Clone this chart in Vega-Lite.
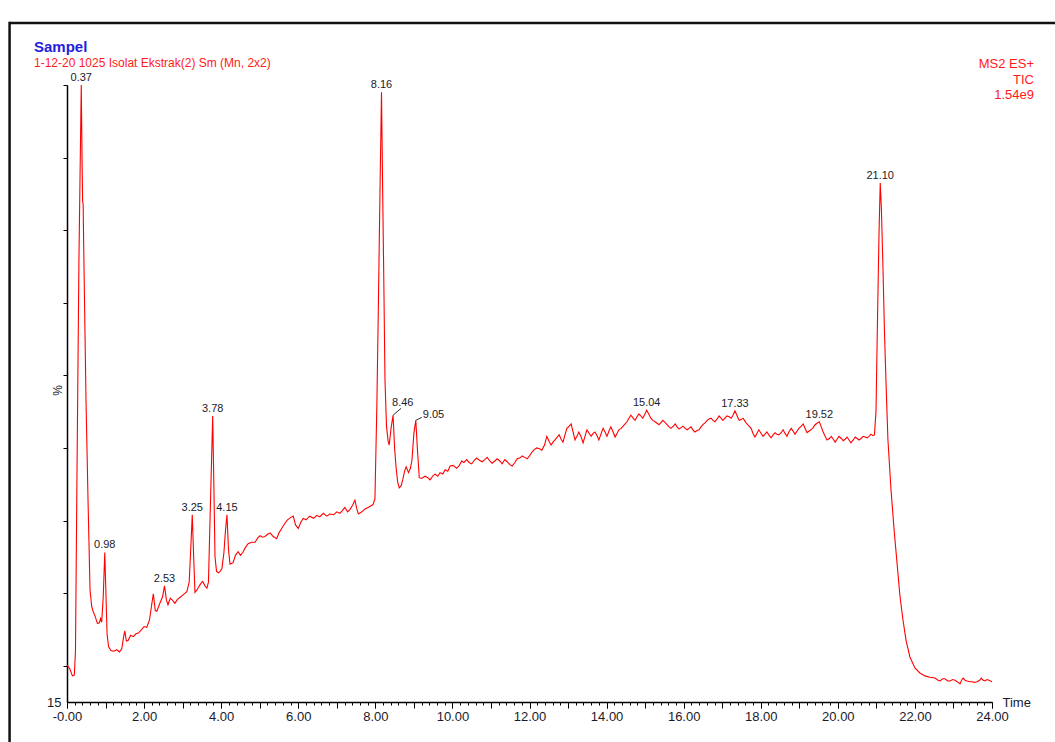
{
"$schema": "https://vega.github.io/schema/vega-lite/v6.json",
"width": 925,
"height": 617,
"autosize": {"type": "none"},
"padding": {"left": 67, "top": 85, "right": 63, "bottom": 40},
"background": "white",
"config": {
  "font": "Liberation Sans",
  "view": {"stroke": null},
  "axis": {"labelOverlap": false, "labelFlush": false, "labelBound": false, "grid": false}
},
"title": {
  "text": "Sampel",
  "subtitle": "1-12-20 1025 Isolat Ekstrak(2) Sm (Mn, 2x2)",
  "anchor": "start",
  "frame": "group",
  "dx": -33,
  "offset": -48,
  "fontSize": 15,
  "fontWeight": "bold",
  "color": "#2222dd",
  "subtitleColor": "#ff1a1a",
  "subtitleFontSize": 12,
  "subtitlePadding": 3
},
"resolve": {"axis": {"x": "independent", "y": "independent"}},
"datasets": {
  "tic": [
    {"t":0,"v":20.1},{"t":0.07,"v":19.6},{"t":0.14,"v":18.6},{"t":0.19,"v":18.7},{"t":0.22,"v":22},{"t":0.26,"v":47},{"t":0.31,"v":76},{"t":0.37,"v":100},{"t":0.39,"v":90},{"t":0.405,"v":84},{"t":0.42,"v":83.5},{"t":0.43,"v":79},{"t":0.454,"v":70.4},{"t":0.493,"v":56.6},{"t":0.545,"v":42.9},{"t":0.597,"v":30.5},{"t":0.64,"v":28.2},{"t":0.675,"v":27.5},{"t":0.73,"v":26.8},{"t":0.79,"v":25.8},{"t":0.84,"v":25.9},{"t":0.87,"v":26.5},{"t":0.9,"v":26.0},{"t":0.94,"v":29.5},{"t":0.98,"v":35.6},{"t":1.01,"v":30},{"t":1.04,"v":24.3},{"t":1.08,"v":22.6},{"t":1.14,"v":22.1},{"t":1.22,"v":22.0},{"t":1.29,"v":22.2},{"t":1.36,"v":21.9},{"t":1.42,"v":22.3},{"t":1.47,"v":24.0},{"t":1.5,"v":24.8},{"t":1.54,"v":23.4},{"t":1.59,"v":23.5},{"t":1.65,"v":24.2},{"t":1.72,"v":24.0},{"t":1.79,"v":24.4},{"t":1.85,"v":24.5},{"t":1.94,"v":25.0},{"t":2.0,"v":25.4},{"t":2.07,"v":25.3},{"t":2.14,"v":26.3},{"t":2.2,"v":28.5},{"t":2.24,"v":29.9},{"t":2.29,"v":27.6},{"t":2.33,"v":27.5},{"t":2.41,"v":28.6},{"t":2.48,"v":29.5},{"t":2.53,"v":31.0},{"t":2.58,"v":29},{"t":2.62,"v":28.4},{"t":2.68,"v":29.3},{"t":2.74,"v":29.0},{"t":2.8,"v":28.6},{"t":2.86,"v":29.1},{"t":2.93,"v":29.4},{"t":3.02,"v":29.8},{"t":3.11,"v":30.2},{"t":3.17,"v":31.5},{"t":3.21,"v":36},{"t":3.25,"v":40.8},{"t":3.28,"v":36},{"t":3.32,"v":30.1},{"t":3.37,"v":30.4},{"t":3.41,"v":30.8},{"t":3.47,"v":31.3},{"t":3.52,"v":31.6},{"t":3.58,"v":31.0},{"t":3.63,"v":30.7},{"t":3.67,"v":31.5},{"t":3.72,"v":42},{"t":3.78,"v":54.4},{"t":3.81,"v":45},{"t":3.84,"v":35},{"t":3.88,"v":33.0},{"t":3.93,"v":32.8},{"t":3.97,"v":33.0},{"t":4.02,"v":33.4},{"t":4.07,"v":35.5},{"t":4.11,"v":38.5},{"t":4.15,"v":40.8},{"t":4.19,"v":36},{"t":4.23,"v":34.0},{"t":4.31,"v":34.2},{"t":4.37,"v":35.2},{"t":4.44,"v":35.7},{"t":4.5,"v":35.2},{"t":4.56,"v":35.6},{"t":4.63,"v":36.3},{"t":4.7,"v":36.8},{"t":4.79,"v":37.0},{"t":4.88,"v":37.0},{"t":4.95,"v":37.6},{"t":5.01,"v":37.9},{"t":5.07,"v":37.7},{"t":5.14,"v":37.8},{"t":5.2,"v":38.1},{"t":5.27,"v":38.3},{"t":5.35,"v":37.8},{"t":5.44,"v":37.5},{"t":5.5,"v":38.3},{"t":5.57,"v":38.9},{"t":5.65,"v":39.6},{"t":5.72,"v":40.1},{"t":5.8,"v":40.4},{"t":5.87,"v":40.6},{"t":5.93,"v":39.4},{"t":6.0,"v":38.9},{"t":6.07,"v":39.8},{"t":6.13,"v":40.3},{"t":6.2,"v":40.1},{"t":6.3,"v":40.6},{"t":6.4,"v":40.3},{"t":6.48,"v":40.7},{"t":6.56,"v":40.5},{"t":6.65,"v":41.0},{"t":6.74,"v":40.6},{"t":6.82,"v":40.9},{"t":6.92,"v":40.8},{"t":7.0,"v":41.2},{"t":7.08,"v":41.0},{"t":7.15,"v":41.4},{"t":7.21,"v":41.8},{"t":7.28,"v":41.2},{"t":7.34,"v":41.5},{"t":7.41,"v":42.1},{"t":7.47,"v":42.8},{"t":7.52,"v":41.6},{"t":7.56,"v":40.9},{"t":7.65,"v":41.2},{"t":7.73,"v":41.6},{"t":7.81,"v":41.8},{"t":7.88,"v":42.0},{"t":7.94,"v":42.2},{"t":7.99,"v":43.0},{"t":8.04,"v":56},{"t":8.08,"v":70},{"t":8.12,"v":85},{"t":8.16,"v":99.0},{"t":8.19,"v":85.4},{"t":8.22,"v":73},{"t":8.25,"v":59.4},{"t":8.29,"v":53},{"t":8.33,"v":51},{"t":8.36,"v":50.4},{"t":8.41,"v":52.8},{"t":8.46,"v":54.5},{"t":8.5,"v":50},{"t":8.54,"v":47.2},{"t":8.58,"v":45.3},{"t":8.62,"v":44.5},{"t":8.67,"v":44.8},{"t":8.71,"v":45.6},{"t":8.76,"v":46.8},{"t":8.8,"v":47.4},{"t":8.86,"v":46.6},{"t":8.91,"v":47.2},{"t":8.95,"v":48.3},{"t":9.0,"v":52},{"t":9.05,"v":53.8},{"t":9.09,"v":50},{"t":9.14,"v":45.9},{"t":9.2,"v":45.8},{"t":9.29,"v":46.1},{"t":9.36,"v":45.9},{"t":9.42,"v":45.6},{"t":9.5,"v":46.2},{"t":9.55,"v":46.4},{"t":9.62,"v":46.1},{"t":9.68,"v":46.6},{"t":9.75,"v":46.4},{"t":9.81,"v":47.0},{"t":9.88,"v":46.8},{"t":9.94,"v":47.5},{"t":10.02,"v":47.6},{"t":10.11,"v":47.2},{"t":10.18,"v":47.6},{"t":10.24,"v":48.2},{"t":10.3,"v":48.0},{"t":10.37,"v":48.4},{"t":10.43,"v":48.0},{"t":10.5,"v":47.8},{"t":10.57,"v":48.3},{"t":10.63,"v":48.6},{"t":10.7,"v":48.3},{"t":10.77,"v":48.1},{"t":10.84,"v":48.4},{"t":10.9,"v":48.7},{"t":10.97,"v":48.2},{"t":11.03,"v":47.9},{"t":11.1,"v":48.2},{"t":11.16,"v":48.5},{"t":11.23,"v":48.2},{"t":11.29,"v":47.8},{"t":11.36,"v":48.4},{"t":11.42,"v":48.1},{"t":11.49,"v":47.7},{"t":11.55,"v":47.5},{"t":11.62,"v":48.0},{"t":11.68,"v":48.5},{"t":11.75,"v":48.6},{"t":11.81,"v":48.9},{"t":11.88,"v":48.7},{"t":11.94,"v":48.5},{"t":12.0,"v":48.9},{"t":12.06,"v":49.4},{"t":12.13,"v":49.8},{"t":12.19,"v":50.0},{"t":12.26,"v":49.9},{"t":12.32,"v":49.7},{"t":12.39,"v":50.4},{"t":12.45,"v":51.6},{"t":12.51,"v":50.9},{"t":12.56,"v":50.4},{"t":12.61,"v":50.8},{"t":12.66,"v":51.1},{"t":12.72,"v":51.5},{"t":12.77,"v":51.8},{"t":12.82,"v":51.2},{"t":12.87,"v":50.8},{"t":12.92,"v":51.8},{"t":12.97,"v":52.7},{"t":13.03,"v":53.0},{"t":13.08,"v":53.3},{"t":13.13,"v":52.2},{"t":13.18,"v":51.1},{"t":13.23,"v":51.6},{"t":13.28,"v":52.2},{"t":13.34,"v":51.5},{"t":13.39,"v":50.7},{"t":13.44,"v":51.6},{"t":13.49,"v":52.5},{"t":13.55,"v":52.0},{"t":13.6,"v":51.6},{"t":13.65,"v":52.0},{"t":13.7,"v":52.2},{"t":13.75,"v":51.7},{"t":13.8,"v":51.1},{"t":13.86,"v":52.0},{"t":13.91,"v":52.7},{"t":13.96,"v":52.2},{"t":14.01,"v":51.6},{"t":14.06,"v":52.3},{"t":14.11,"v":52.9},{"t":14.17,"v":52.2},{"t":14.22,"v":51.5},{"t":14.27,"v":52.0},{"t":14.32,"v":52.5},{"t":14.38,"v":52.7},{"t":14.43,"v":53.0},{"t":14.48,"v":53.3},{"t":14.53,"v":53.6},{"t":14.58,"v":54.1},{"t":14.63,"v":54.5},{"t":14.69,"v":54.1},{"t":14.74,"v":53.8},{"t":14.79,"v":54.3},{"t":14.84,"v":54.7},{"t":14.89,"v":54.4},{"t":14.94,"v":54.1},{"t":14.99,"v":54.6},{"t":15.04,"v":55.2},{"t":15.1,"v":54.6},{"t":15.15,"v":54.1},{"t":15.2,"v":53.8},{"t":15.26,"v":53.6},{"t":15.31,"v":53.4},{"t":15.36,"v":53.2},{"t":15.41,"v":53.5},{"t":15.46,"v":53.8},{"t":15.52,"v":53.5},{"t":15.57,"v":53.2},{"t":15.62,"v":52.9},{"t":15.67,"v":52.7},{"t":15.73,"v":53.0},{"t":15.78,"v":53.3},{"t":15.83,"v":52.9},{"t":15.88,"v":52.6},{"t":15.93,"v":52.8},{"t":15.98,"v":53.0},{"t":16.04,"v":52.7},{"t":16.09,"v":52.5},{"t":16.14,"v":52.7},{"t":16.19,"v":52.9},{"t":16.24,"v":52.5},{"t":16.29,"v":52.2},{"t":16.35,"v":52.4},{"t":16.4,"v":52.5},{"t":16.45,"v":52.9},{"t":16.5,"v":53.2},{"t":16.56,"v":53.5},{"t":16.61,"v":53.8},{"t":16.66,"v":54.0},{"t":16.71,"v":54.1},{"t":16.76,"v":53.8},{"t":16.81,"v":53.6},{"t":16.87,"v":54.0},{"t":16.92,"v":54.4},{"t":16.97,"v":54.1},{"t":17.02,"v":53.8},{"t":17.07,"v":54.1},{"t":17.12,"v":54.4},{"t":17.18,"v":54.3},{"t":17.23,"v":54.1},{"t":17.28,"v":54.5},{"t":17.33,"v":55.1},{"t":17.39,"v":54.4},{"t":17.44,"v":53.8},{"t":17.49,"v":53.9},{"t":17.54,"v":54.1},{"t":17.59,"v":53.7},{"t":17.64,"v":53.3},{"t":17.7,"v":53.0},{"t":17.75,"v":52.7},{"t":17.8,"v":52.0},{"t":17.85,"v":51.5},{"t":17.9,"v":52.0},{"t":17.95,"v":52.5},{"t":18.01,"v":52.0},{"t":18.06,"v":51.6},{"t":18.11,"v":51.9},{"t":18.16,"v":52.2},{"t":18.21,"v":51.8},{"t":18.27,"v":51.4},{"t":18.32,"v":51.8},{"t":18.37,"v":52.1},{"t":18.42,"v":51.9},{"t":18.47,"v":51.8},{"t":18.53,"v":52.1},{"t":18.58,"v":52.5},{"t":18.63,"v":52.0},{"t":18.68,"v":51.6},{"t":18.73,"v":52.2},{"t":18.79,"v":52.7},{"t":18.84,"v":52.3},{"t":18.89,"v":51.9},{"t":18.94,"v":52.3},{"t":18.99,"v":52.7},{"t":19.05,"v":53.0},{"t":19.1,"v":53.3},{"t":19.15,"v":52.7},{"t":19.2,"v":52.1},{"t":19.25,"v":52.3},{"t":19.3,"v":52.5},{"t":19.36,"v":52.8},{"t":19.41,"v":53.2},{"t":19.46,"v":53.4},{"t":19.52,"v":53.6},{"t":19.57,"v":52.9},{"t":19.62,"v":52.2},{"t":19.67,"v":51.6},{"t":19.72,"v":51.1},{"t":19.78,"v":51.3},{"t":19.83,"v":51.6},{"t":19.88,"v":51.2},{"t":19.93,"v":50.8},{"t":19.98,"v":51.2},{"t":20.03,"v":51.6},{"t":20.09,"v":51.3},{"t":20.14,"v":51.0},{"t":20.19,"v":51.2},{"t":20.24,"v":51.5},{"t":20.29,"v":51.1},{"t":20.34,"v":50.7},{"t":20.4,"v":51.1},{"t":20.45,"v":51.5},{"t":20.5,"v":51.3},{"t":20.55,"v":51.1},{"t":20.6,"v":51.3},{"t":20.66,"v":51.6},{"t":20.71,"v":51.5},{"t":20.76,"v":51.4},{"t":20.81,"v":51.6},{"t":20.86,"v":51.9},{"t":20.91,"v":51.7},{"t":20.95,"v":51.8},{"t":20.99,"v":55},{"t":21.03,"v":68},{"t":21.07,"v":80},{"t":21.1,"v":86.5},{"t":21.13,"v":83},{"t":21.17,"v":75},{"t":21.21,"v":66},{"t":21.25,"v":59},{"t":21.3,"v":51.1},{"t":21.38,"v":44.2},{"t":21.46,"v":38.7},{"t":21.54,"v":33.9},{"t":21.61,"v":29.7},{"t":21.69,"v":26.3},{"t":21.77,"v":23.5},{"t":21.87,"v":21.2},{"t":22.0,"v":19.7},{"t":22.13,"v":19.0},{"t":22.26,"v":18.6},{"t":22.39,"v":18.4},{"t":22.52,"v":18.3},{"t":22.6,"v":18.0},{"t":22.65,"v":17.9},{"t":22.72,"v":18.2},{"t":22.78,"v":18.2},{"t":22.85,"v":17.9},{"t":22.91,"v":17.9},{"t":22.98,"v":18.1},{"t":23.04,"v":18.0},{"t":23.1,"v":17.8},{"t":23.17,"v":17.5},{"t":23.22,"v":18.1},{"t":23.25,"v":18.3},{"t":23.3,"v":18.0},{"t":23.35,"v":17.9},{"t":23.42,"v":17.8},{"t":23.48,"v":17.8},{"t":23.55,"v":17.7},{"t":23.61,"v":17.8},{"t":23.68,"v":18.0},{"t":23.72,"v":18.3},{"t":23.77,"v":18.0},{"t":23.82,"v":17.9},{"t":23.87,"v":18.1},{"t":23.92,"v":18.0},{"t":24.0,"v":17.8}
  ],
  "peaks": [
    {"t":0.37,"v":100},{"t":0.98,"v":35.6},{"t":2.53,"v":31.0},{"t":3.25,"v":40.8},{"t":3.78,"v":54.4},{"t":4.15,"v":40.8},{"t":8.16,"v":99.0},{"t":8.46,"v":54.5},{"t":9.05,"v":53.8},{"t":15.04,"v":55.2},{"t":17.33,"v":55.1},{"t":19.52,"v":53.6},{"t":21.1,"v":86.5}
  ]
},
"layer": [
  {
    "data": {"values": [{}]},
    "mark": {"type": "rule", "color": "#111111", "strokeWidth": 2.5},
    "encoding": {
      "x": {
        "datum": -1.49, "type": "quantitative",
        "scale": {"domain": [0, 24], "nice": false, "zero": false},
        "axis": {
          "orient": "bottom",
          "values": [0,0.2,0.4,0.6,0.8,1,1.2,1.4,1.6,1.8,2,2.2,2.4,2.6,2.8,3,3.2,3.4,3.6,3.8,4,4.2,4.4,4.6,4.8,5,5.2,5.4,5.6,5.8,6,6.2,6.4,6.6,6.8,7,7.2,7.4,7.6,7.8,8,8.2,8.4,8.6,8.8,9,9.2,9.4,9.6,9.8,10,10.2,10.4,10.6,10.8,11,11.2,11.4,11.6,11.8,12,12.2,12.4,12.6,12.8,13,13.2,13.4,13.6,13.8,14,14.2,14.4,14.6,14.8,15,15.2,15.4,15.6,15.8,16,16.2,16.4,16.6,16.8,17,17.2,17.4,17.6,17.8,18,18.2,18.4,18.6,18.8,19,19.2,19.4,19.6,19.8,20,20.2,20.4,20.6,20.8,21,21.2,21.4,21.6,21.8,22,22.2,22.4,22.6,22.8,23,23.2,23.4,23.6,23.8,24],
          "title": null,
          "labels": false,
          "domain": false,
          "grid": false,
          "tickColor": "#000000", "tickWidth": 1,
          "tickSize": {"condition": {"test": "abs(datum.value - round(datum.value)) < 0.01", "value": 6}, "value": 3}
        }
      },
      "x2": {"datum": 25.8},
      "y": {"datum": 108.55, "type": "quantitative", "axis": null}
    }
  },
  {
    "data": {"values": [{}]},
    "mark": {"type": "rule", "color": "#111111", "strokeWidth": 2.5},
    "encoding": {
      "x": {"datum": -1.49, "type": "quantitative", "axis": null},
      "y": {"datum": 108.7, "type": "quantitative", "axis": null},
      "y2": {"datum": 8}
    }
  },
  {
    "data": {"name": "tic"},
    "mark": {"type": "line", "color": "#ff0000", "strokeWidth": 1.1, "interpolate": "linear"},
    "encoding": {
      "x": {
        "field": "t", "type": "quantitative",
        "scale": {"domain": [0, 24], "nice": false, "zero": false},
        "axis": {
          "orient": "bottom",
          "values": [0,2,4,6,8,10,12,14,16,18,20,22,24],
          "title": "Time",
          "titleX": 935, "titleY": 0, "titleAlign": "left", "titleBaseline": "middle", "titleAngle": 0,
          "titleFontSize": 13, "titleFontWeight": "normal", "titleColor": "#1a1a2a",
          "domainColor": "#000000", "domainWidth": 1.5,
          "tickColor": "#000000", "tickWidth": 1, "tickSize": 6,
          "labelExpr": "datum.value == 0 ? '-0.00' : format(datum.value, '.2f')",
          "labelFontSize": 13, "labelColor": "#1a1a2a", "labelPadding": 2,
          "labelFlush": false, "labelOverlap": false, "labelBound": false,
          "grid": false
        }
      },
      "y": {
        "field": "v", "type": "quantitative",
        "scale": {"domain": [15, 100], "nice": false, "zero": false},
        "axis": {
          "orient": "left",
          "values": [15,20,30,40,50,60,70,80,90,100],
          "title": "%",
          "titleX": -10, "titleY": 305, "titleAlign": "center", "titleBaseline": "middle", "titleAngle": -90,
          "titleFontSize": 12, "titleFontWeight": "normal", "titleColor": "#1a1a2a",
          "domainColor": "#000000", "domainWidth": 1.5,
          "tickColor": "#000000", "tickWidth": 1, "tickSize": 4,
          "tickOpacity": {"condition": {"test": "datum.value == 15", "value": 0}, "value": 1},
          "labelExpr": "datum.value == 15 ? '15' : ''",
          "labelFontSize": 13, "labelColor": "#1a1a2a", "labelPadding": 2,
          "labelFlush": false, "labelOverlap": false, "labelBound": false,
          "grid": false
        }
      }
    }
  },
  {
    "data": {"name": "peaks"},
    "transform": [{"filter": "datum.t != 8.46 && datum.t != 9.05"}],
    "mark": {"type": "text", "baseline": "bottom", "align": "center", "dy": -2, "fontSize": 11, "color": "#1a1a2a"},
    "encoding": {
      "x": {"field": "t", "type": "quantitative", "axis": null},
      "y": {"field": "v", "type": "quantitative", "axis": null},
      "text": {"field": "t", "type": "quantitative", "format": ".2f"}
    }
  },
  {
    "data": {"name": "peaks"},
    "transform": [{"filter": "datum.t == 8.46"}],
    "mark": {"type": "rule", "color": "#333333", "strokeWidth": 1, "x2Offset": 8, "y2Offset": -7},
    "encoding": {
      "x": {"field": "t", "type": "quantitative", "axis": null},
      "x2": {"field": "t"},
      "y": {"field": "v", "type": "quantitative", "axis": null},
      "y2": {"field": "v"}
    }
  },
  {
    "data": {"name": "peaks"},
    "transform": [{"filter": "datum.t == 8.46"}],
    "mark": {"type": "text", "baseline": "middle", "align": "left", "dx": -1, "dy": -12, "fontSize": 11, "color": "#1a1a2a"},
    "encoding": {
      "x": {"field": "t", "type": "quantitative", "axis": null},
      "y": {"field": "v", "type": "quantitative", "axis": null},
      "text": {"field": "t", "type": "quantitative", "format": ".2f"}
    }
  },
  {
    "data": {"name": "peaks"},
    "transform": [{"filter": "datum.t == 9.05"}],
    "mark": {"type": "rule", "color": "#333333", "strokeWidth": 1, "x2Offset": 6, "y2Offset": -3},
    "encoding": {
      "x": {"field": "t", "type": "quantitative", "axis": null},
      "x2": {"field": "t"},
      "y": {"field": "v", "type": "quantitative", "axis": null},
      "y2": {"field": "v"}
    }
  },
  {
    "data": {"name": "peaks"},
    "transform": [{"filter": "datum.t == 9.05"}],
    "mark": {"type": "text", "baseline": "middle", "align": "left", "dx": 7, "dy": -5, "fontSize": 11, "color": "#1a1a2a"},
    "encoding": {
      "x": {"field": "t", "type": "quantitative", "axis": null},
      "y": {"field": "v", "type": "quantitative", "axis": null},
      "text": {"field": "t", "type": "quantitative", "format": ".2f"}
    }
  },
  {
    "data": {"values": [{}]},
    "mark": {"type": "text", "align": "right", "baseline": "top", "dx": 42, "dy": -27, "fontSize": 13, "lineHeight": 15.5, "color": "#ff1a1a"},
    "encoding": {
      "x": {"datum": 24, "type": "quantitative", "axis": null},
      "y": {"datum": 100, "type": "quantitative", "axis": null},
      "text": {"value": ["MS2 ES+", "TIC", "1.54e9"]}
    }
  }
]
}
